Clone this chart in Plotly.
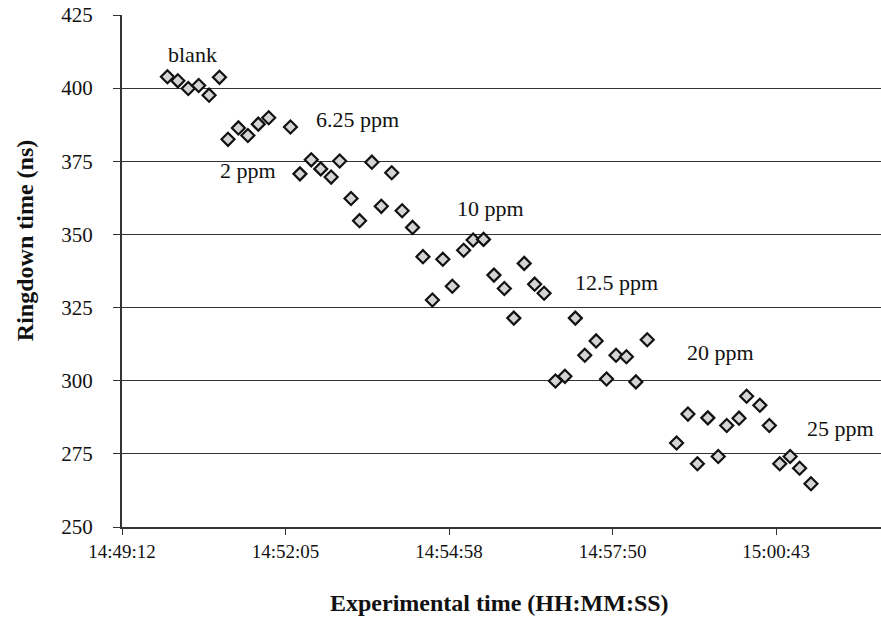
import plotly.graph_objects as go

times = ["14:50:00", "14:50:11", "14:50:22", "14:50:33", "14:50:44", "14:50:55",
         "14:51:04", "14:51:15", "14:51:25", "14:51:36", "14:51:47", "14:52:10",
         "14:52:20", "14:52:32", "14:52:42", "14:52:53", "14:53:02", "14:53:14",
         "14:53:23", "14:53:36", "14:53:46", "14:53:57", "14:54:08", "14:54:19",
         "14:54:30", "14:54:40", "14:54:51", "14:55:01", "14:55:13", "14:55:23",
         "14:55:34", "14:55:45", "14:55:56", "14:56:06", "14:56:17", "14:56:28",
         "14:56:38", "14:56:50", "14:57:00", "14:57:11", "14:57:21", "14:57:33",
         "14:57:44", "14:57:54", "14:58:05", "14:58:15", "14:58:27", "14:58:58",
         "14:59:10", "14:59:20", "14:59:31", "14:59:42", "14:59:51", "15:00:04",
         "15:00:12", "15:00:26", "15:00:36", "15:00:47", "15:00:58", "15:01:08",
         "15:01:20"]
ringdown = [403.9, 402.5, 399.9, 400.9, 397.6, 403.7,
            382.5, 386.4, 383.8, 387.7, 389.9, 386.7,
            370.7, 375.5, 372.4, 369.6, 375.1, 362.3,
            354.7, 374.7, 359.6, 371.1, 358.1, 352.4,
            342.4, 327.6, 341.5, 332.3, 344.6, 348.1,
            348.3, 336.1, 331.5, 321.4, 340.1, 333.0,
            329.9, 299.9, 301.5, 321.4, 308.7, 313.6,
            300.6, 308.7, 308.2, 299.6, 314.0, 278.7,
            288.6, 271.6, 287.3, 274.1, 284.7, 287.2,
            294.7, 291.6, 284.7, 271.6, 274.1, 270.1,
            264.8]

tick_labels = ["14:49:12", "14:52:05", "14:54:58", "14:57:50", "15:00:43"]
tick_seconds = [53352.0, 53524.8, 53697.6, 53870.4, 54043.2]
x_range = ["14:49:12", "15:02:34"]
y_ticks = [250, 275, 300, 325, 350, 375, 400, 425]

x_title = "Experimental time (HH:MM:SS)"
y_title = "Ringdown time (ns)"

labels = ["blank", "6.25 ppm", "2 ppm", "10 ppm", "12.5 ppm", "20 ppm", "25 ppm"]
label_pos = [(0.0935, 0.922), (0.31, 0.795), (0.166, 0.697), (0.486, 0.623),
             (0.652, 0.477), (0.788, 0.340), (0.947, 0.193)]


def to_sec(s):
    h, m, sec = (int(v) for v in s.split(":"))
    return h * 3600 + m * 60 + sec


xs = [to_sec(t) for t in times]

fig = go.Figure()
fig.add_trace(go.Scatter(
    x=xs, y=ringdown, mode="markers",
    marker=dict(symbol="diamond", size=10, color="#d4d4d4",
                line=dict(color="#111111", width=2.2)),
    hovertext=times, showlegend=False,
))

FONT = "Liberation Serif, Times New Roman, serif"

for txt, (px, py) in zip(labels, label_pos):
    fig.add_annotation(text=txt, x=px, y=py, xref="paper", yref="paper",
                       showarrow=False, xanchor="center", yanchor="middle",
                       font=dict(family=FONT, size=22, color="#111111"))

# axis titles
fig.add_annotation(text="<b>" + x_title + "</b>", x=0.498, y=-0.148,
                   xref="paper", yref="paper", showarrow=False,
                   xanchor="center", yanchor="middle",
                   font=dict(family=FONT, size=24, color="#111111"))
fig.add_annotation(text="<b>" + y_title + "</b>", x=-0.128, y=0.56,
                   xref="paper", yref="paper", showarrow=False, textangle=-90,
                   xanchor="center", yanchor="middle",
                   font=dict(family=FONT, size=24, color="#111111"))

fig.update_layout(
    width=881, height=617,
    margin=dict(l=122, r=0, t=15, b=90),
    paper_bgcolor="white", plot_bgcolor="white",
    font=dict(family=FONT, color="#111111"),
)
fig.update_xaxes(
    range=[to_sec(x_range[0]), to_sec(x_range[1])],
    tickvals=tick_seconds, ticktext=tick_labels,
    ticks="outside", ticklen=6, tickcolor="#333333",
    showline=True, linecolor="#333333", linewidth=2,
    showgrid=False, zeroline=False,
    tickfont=dict(family=FONT, size=19),
)
fig.update_yaxes(
    range=[250, 425], tickvals=y_ticks,
    ticks="outside", ticklen=7, tickcolor="#333333",
    ticklabelstandoff=16,
    showline=True, linecolor="#333333", linewidth=2,
    showgrid=True, gridcolor="#333333", gridwidth=1, zeroline=False,
    tickfont=dict(family=FONT, size=21),
)

fig.write_html("out.html", config={"displayModeBar": False},
               post_script="document.body.style.margin='0px';")
